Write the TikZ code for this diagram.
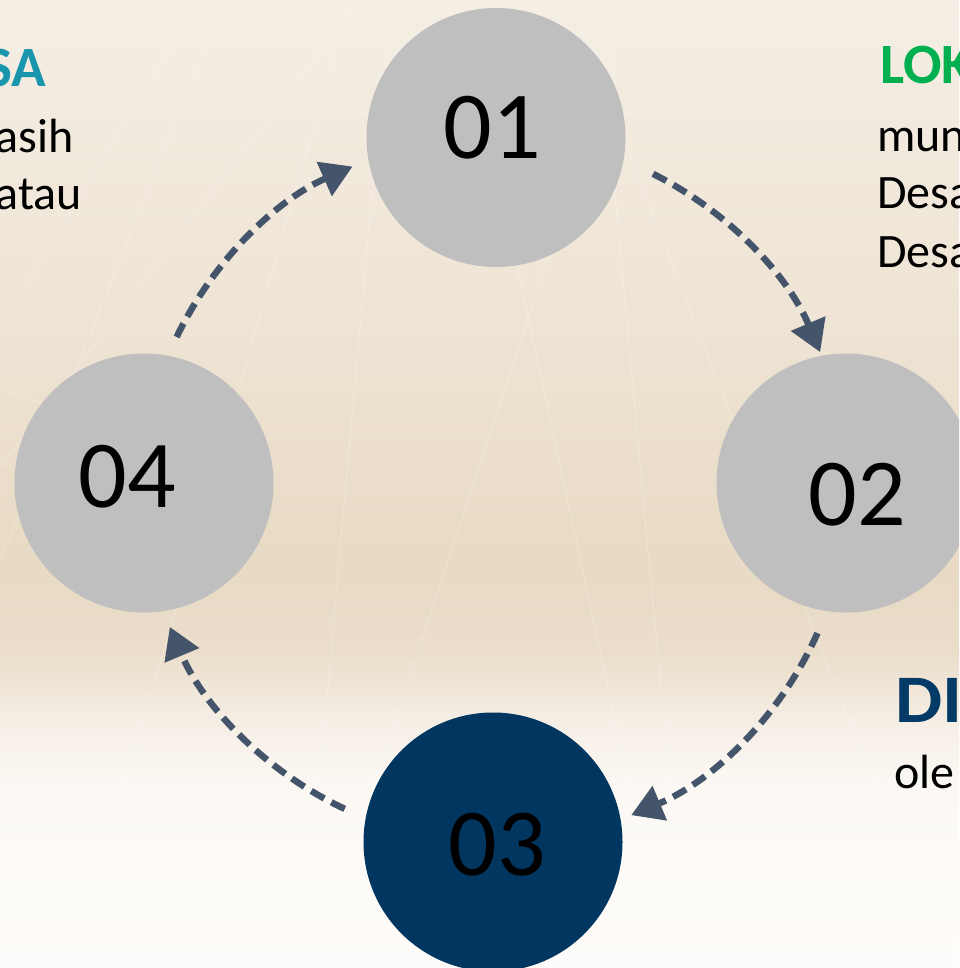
\documentclass[tikz,border=0pt]{standalone}
\usepackage{fontspec}
\setmainfont{Carlito}
\usetikzlibrary{arrows.meta,calc}
\definecolor{bgA}{HTML}{F4EEE4}
\definecolor{bgB}{HTML}{EFE5D6}
\definecolor{bgC}{HTML}{E8DAC4}
\definecolor{bgD}{HTML}{EADDCA}
\definecolor{bgE}{HTML}{F5EEE5}
\definecolor{bgF}{HTML}{FCF9F5}
\definecolor{bgG}{HTML}{FEFCFA}
\definecolor{discgray}{HTML}{BFBFBF}
\definecolor{discnavy}{HTML}{00365F}
\definecolor{arrowcol}{HTML}{44546A}
\definecolor{headteal}{HTML}{1995AD}
\definecolor{headgreen}{HTML}{00B050}
\definecolor{headnavy}{HTML}{043B66}
\begin{document}
\begin{tikzpicture}[x=1pt,y=1pt,
  disc/.style={circle,minimum size=259pt,inner sep=0pt,draw=none},
  graydisc/.style={disc,fill=discgray},
  navydisc/.style={disc,fill=discnavy},
  num/.style={anchor=base,inner sep=0pt,text=black,font=\fontsize{96}{96}\selectfont},
  flow/.style={draw=arrowcol,line width=6.5pt,dash pattern=on 15pt off 8pt,
    -{Triangle[length=31pt,width=36pt]}},
  head/.style={inner sep=0pt,font=\bfseries\fontsize{57}{57}\selectfont},
  body/.style={inner sep=0pt,text=black,font=\fontsize{48}{48}\selectfont},
  ray/.style={draw=white,opacity=0.3,line width=0.7pt}]
\useasboundingbox (0,0) rectangle (959,-968);
\clip (0,0) rectangle (959,-968);
% background
\shade[top color=bgA,bottom color=bgB] (0,1) rectangle (959,-301);
\shade[top color=bgB,bottom color=bgC] (0,-300) rectangle (959,-561);
\shade[top color=bgC,bottom color=bgD] (0,-560) rectangle (959,-651);
\shade[top color=bgD,bottom color=bgE] (0,-650) rectangle (959,-721);
\shade[top color=bgE,bottom color=bgF] (0,-720) rectangle (959,-791);
\shade[top color=bgF,bottom color=bgG] (0,-790) rectangle (959,-969);
% faint light rays
\draw[ray] (389,0) -- (303,-968);
\draw[ray] (460,0) -- (668,-968);
\draw[ray] (632,0) -- (315,-968);
\draw[ray] (597,0) -- (687,-968);
\draw[ray] (570,0) -- (945,-968);
\draw[ray] (361,0) -- (0,-467);
\draw[ray] (350,0) -- (73,-968);
\draw[ray] (200,0) -- (0,-327);
\draw[ray] (224,0) -- (0,-560);
\draw[ray] (0,-390) -- (200,-455);
% discs
\node[graydisc] (c1) at (496,-137.5) {};
\node[graydisc] (c2) at (846,-483) {};
\node[navydisc] (c3) at (493,-842) {};
\node[graydisc] (c4) at (144,-483) {};
% numbers
\node[num] (n1) at (492,-159) {01};
\node[num] (n2) at (857,-525) {02};
\node[num] (n3) at (497,-875) {03};
\node[num] (n4) at (127,-507) {04};
% cycle arrows on the ring through the disc centres
\coordinate (ring) at (495,-489.5);
\coordinate (a1) at ($(ring)+(63.4:353pt)$);
\coordinate (a2) at ($(ring)+(-24.0:353pt)$);
\coordinate (a3) at ($(ring)+(-115.2:353pt)$);
\coordinate (a4) at ($(ring)+(154.4:353pt)$);
\draw[flow] (a1) arc[start angle=63.4,end angle=22.9,radius=353pt];
\draw[flow] (a2) arc[start angle=-24.0,end angle=-67.3,radius=353pt];
\draw[flow] (a3) arc[start angle=-115.2,end angle=-157.1,radius=353pt];
\draw[flow] (a4) arc[start angle=154.4,end angle=113.8,radius=353pt];
% side texts
\node[head,text=headteal,anchor=base east] (h1) at (46,-87) {SA};
\node[body,anchor=base east] (t1a) at (74,-153) {asih};
\node[body,anchor=base east] (t1b) at (82,-210) {atau};
\node[head,text=headgreen,anchor=base west] (h2) at (880,-84) {LOK};
\node[body,anchor=base west] (t2a) at (877,-152) {mun};
\node[body,anchor=base west] (t2b) at (877,-209) {Desa};
\node[body,anchor=base west] (t2c) at (877,-267) {Desa};
\node[head,text=headnavy,anchor=base west,font=\bfseries\fontsize{68}{68}\selectfont] (h3) at (895,-722) {\scalebox{1.1}[1]{DI}};
\node[body,anchor=base west] (t3a) at (894,-788) {ole};
\end{tikzpicture}
\end{document}
